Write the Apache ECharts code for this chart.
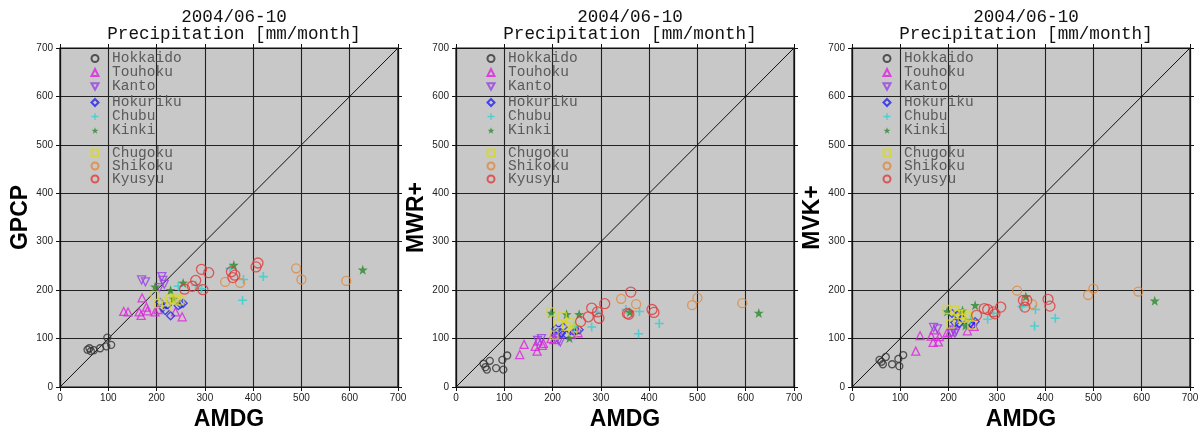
<!DOCTYPE html>
<html>
<head>
<meta charset="utf-8">
<script src="https://cdn.jsdelivr.net/npm/echarts@6/dist/echarts.min.js"></script>
<style>
html,body{margin:0;padding:0;background:#fff;}
#chart{width:1202px;height:436px;}
</style>
</head>
<body>
<div id="chart"></div>
<script>
// ---- data ----
const regions = ['Hokkaido','Touhoku','Kanto','Hokuriku','Chubu','Kinki','Chugoku','Shikoku','Kyusyu'];
const panelNames = ['GPCP','MWR+','MVK+'];
const titleLine1 = '2004/06-10';
const titleLine2 = 'Precipitation [mm/month]';
const xAxisName = 'AMDG';
const axisTicks = [0,100,200,300,400,500,600,700];

const hokkaidoAMDG = [57, 61, 64, 70, 83, 96, 98, 106];
const hokkaidoGPCP = [77, 80, 74, 76, 80, 84, 102, 87];
const hokkaidoMWR  = [48, 41, 36, 54, 39, 56, 36, 65];
const hokkaidoMVK  = [56, 52, 47, 62, 47, 58, 43, 66];

const touhokuAMDG = [132, 141, 164, 168, 170, 179, 181, 197, 203, 239, 253];
const touhokuGPCP = [156, 155, 155, 148, 184, 165, 157, 155, 160, 155, 145];
const touhokuMWR  = [67, 88, 84, 74, 95, 86, 90, 100, 98, 108, 112];
const touhokuMVK  = [74, 106, 105, 92, 118, 93, 104, 112, 114, 116, 125];

const kantoAMDG = [169, 177, 206, 211, 213, 216];
const kantoGPCP = [221, 217, 205, 228, 220, 212];
const kantoMWR  = [96, 100, 100, 103, 96, 93];
const kantoMVK  = [123, 120, 112, 118, 111, 116];

const hokurikuAMDG = [207, 213, 218, 222, 229, 245, 250, 255];
const hokurikuGPCP = [175, 164, 158, 169, 147, 168, 171, 173];
const hokurikuMWR  = [120, 117, 111, 124, 108, 113, 116, 118];
const hokurikuMVK  = [152, 133, 148, 131, 140, 132, 128, 135];

const chubuAMDG = [245, 281, 293, 352, 378, 380, 421];
const chubuGPCP = [208, 210, 203, 245, 179, 222, 228];
const chubuMWR  = [125, 124, 155, 160, 110, 156, 131];
const chubuMVK  = [140, 140, 152, 166, 126, 160, 142];

const kinkiAMDG = [197, 229, 235, 255, 360, 627];
const kinkiGPCP = [207, 200, 182, 215, 252, 242];
const kinkiMWR  = [153, 150, 101, 150, 155, 153];
const kinkiMVK  = [156, 158, 127, 169, 187, 178];

const chugokuAMDG = [197, 203, 213, 220, 228, 236, 242, 248];
const chugokuGPCP = [189, 172, 176, 168, 182, 180, 184, 178];
const chugokuMWR  = [155, 107, 131, 145, 125, 134, 114, 122];
const chugokuMVK  = [160, 130, 158, 150, 142, 151, 145, 128];

const shikokuAMDG = [342, 373, 489, 500, 593];
const shikokuGPCP = [217, 215, 245, 222, 219];
const shikokuMWR  = [182, 171, 169, 184, 173];
const shikokuMVK  = [199, 171, 190, 203, 197];

const kyusyuAMDG = [258, 274, 281, 293, 296, 308, 355, 358, 362, 406, 410];
const kyusyuGPCP = [202, 208, 220, 243, 201, 236, 238, 226, 231, 248, 256];
const kyusyuMWR  = [135, 145, 163, 155, 142, 172, 152, 150, 196, 160, 154];
const kyusyuMVK  = [148, 162, 160, 155, 151, 165, 179, 165, 179, 181, 167];

const oneToOne = [[0, 0], [700, 700]];

// ---- assembly ----
const regionX = [hokkaidoAMDG, touhokuAMDG, kantoAMDG, hokurikuAMDG, chubuAMDG, kinkiAMDG, chugokuAMDG, shikokuAMDG, kyusyuAMDG];
const regionY = [
  [hokkaidoGPCP, touhokuGPCP, kantoGPCP, hokurikuGPCP, chubuGPCP, kinkiGPCP, chugokuGPCP, shikokuGPCP, kyusyuGPCP],
  [hokkaidoMWR, touhokuMWR, kantoMWR, hokurikuMWR, chubuMWR, kinkiMWR, chugokuMWR, shikokuMWR, kyusyuMWR],
  [hokkaidoMVK, touhokuMVK, kantoMVK, hokurikuMVK, chubuMVK, kinkiMVK, chugokuMVK, shikokuMVK, kyusyuMVK]
];

const STAR = 'path://M0,-10 L2.35,-3.24 9.51,-3.09 3.8,1.24 5.88,8.09 0,4 -5.88,8.09 -3.8,1.24 -9.51,-3.09 -2.35,-3.24 Z';
const PLUS = 'path://M-0.9,-5 H0.9 V-0.9 H5 V0.9 H0.9 V5 H-0.9 V0.9 H-5 V-0.9 H-0.9 Z';
const DOWN_TRI = 'path://M-5,-4.5 L5,-4.5 L0,4.5 Z';
const styles = [
  {symbol:'circle', size:7, color:'#333333', empty:true},
  {symbol:'triangle', size:8, color:'#e020e0', empty:true},
  {symbol:'triangle', size:8, color:'#9a3ee6', empty:true, rotate:180, legendIcon: DOWN_TRI},
  {symbol:'diamond', size:8, color:'#2222ee', empty:true},
  {symbol:PLUS, size:9, color:'#30d0d0', empty:false},
  {symbol:STAR, size:10, color:'#2a8a2a', empty:false},
  {symbol:'rect', size:8, color:'#d8d820', empty:true},
  {symbol:'circle', size:9, color:'#e0883a', empty:true},
  {symbol:'circle', size:10, color:'#e03a3a', empty:true}
];

const lefts = [60, 456, 852];
const plotW = 338, plotH = 339, plotTop = 48;
const mono = '"Liberation Mono", "DejaVu Sans Mono", monospace';
const sans = '"Liberation Sans", Arial, sans-serif';

const grids = [], xAxes = [], yAxes = [], series = [], legends = [], titles = [];
const groupTops = [51, 95, 145.5];
const groupGaps = [-1, -1, -2];

lefts.forEach((L, p) => {
  grids.push({left: L, top: plotTop, width: plotW, height: plotH, show: true,
    backgroundColor: '#c8c8c8', borderColor: '#111', borderWidth: 1.2});
  titles.push({text: titleLine1 + '\n' + titleLine2, left: L + plotW / 2, top: 4, textAlign: 'center',
    textStyle: {fontFamily: mono, fontSize: 17.6, fontWeight: 'normal', color: '#111', lineHeight: 17}});
  const baseAxis = {min: 0, max: 700, interval: 100, type: 'value'};
  xAxes.push(Object.assign({}, baseAxis, {gridIndex: p, position: 'bottom',
    name: xAxisName, nameLocation: 'middle', nameGap: 21,
    nameTextStyle: {fontFamily: sans, fontWeight: 'bold', fontSize: 23, color: '#000'},
    axisLine: {show: true, onZero: false, lineStyle: {color: '#111', width: 1.2}},
    axisTick: {show: true, inside: false, length: 4, lineStyle: {color: '#111'}},
    axisLabel: {show: true, margin: 6, fontFamily: sans, fontSize: 10, color: '#222'},
    splitLine: {show: true, lineStyle: {color: '#222', width: 1.1}}}));
  xAxes.push(Object.assign({}, baseAxis, {gridIndex: p, position: 'top',
    axisLine: {show: true, onZero: false, lineStyle: {color: '#111', width: 1.2}},
    axisTick: {show: true, inside: false, length: 4, lineStyle: {color: '#111'}},
    axisLabel: {show: false}, splitLine: {show: false}}));
  yAxes.push(Object.assign({}, baseAxis, {gridIndex: p, position: 'left',
    name: panelNames[p], nameLocation: 'middle', nameGap: 28, nameRotate: 90,
    nameTextStyle: {fontFamily: sans, fontWeight: 'bold', fontSize: 23, color: '#000'},
    axisLine: {show: true, onZero: false, lineStyle: {color: '#111', width: 1.2}},
    axisTick: {show: true, inside: false, length: 4, lineStyle: {color: '#111'}},
    axisLabel: {show: true, margin: 7, fontFamily: sans, fontSize: 10, color: '#222'},
    splitLine: {show: true, lineStyle: {color: '#222', width: 1.1}}}));
  yAxes.push(Object.assign({}, baseAxis, {gridIndex: p, position: 'right',
    axisLine: {show: true, onZero: false, lineStyle: {color: '#111', width: 1.2}},
    axisTick: {show: true, inside: false, length: 4, lineStyle: {color: '#111'}},
    axisLabel: {show: false}, splitLine: {show: false}}));

  series.push({type: 'line', xAxisIndex: p * 2, yAxisIndex: p * 2, data: oneToOne,
    symbol: 'none', silent: true, lineStyle: {color: '#111', width: 1}, z: 2});

  regions.forEach((name, r) => {
    const s = styles[r];
    const xs = regionX[r], ys = regionY[p][r];
    series.push({
      type: 'scatter', name: name, xAxisIndex: p * 2, yAxisIndex: p * 2,
      data: xs.map((x, i) => [x, ys[i]]),
      symbol: s.symbol, symbolSize: s.size, symbolRotate: s.rotate || 0,
      itemStyle: s.empty ? {color: 'rgba(0,0,0,0)', borderColor: s.color, borderWidth: 1.3}
                         : {color: s.color, borderWidth: 0},
      z: 3
    });
  });

  for (let g = 0; g < 3; g++) {
    legends.push({
      orient: 'vertical', left: L + 30.5, top: groupTops[g], padding: 0,
      itemWidth: 7, itemHeight: 7, itemGap: groupGaps[g], selectedMode: false,
      data: regions.slice(g * 3, g * 3 + 3).map((n, k) => {
        const st = styles[g * 3 + k];
        return st.legendIcon ? {name: n, icon: st.legendIcon} : {name: n};
      }),
      textStyle: {fontFamily: mono, fontSize: 14.5, color: '#5a5a5a', lineHeight: 12.5, padding: [0, 0, 0, 8.5]}
    });
  }
});

const chart = echarts.init(document.getElementById('chart'), null, {renderer: 'canvas'});
chart.setOption({
  backgroundColor: '#ffffff',
  animation: false,
  title: titles,
  grid: grids,
  xAxis: xAxes,
  yAxis: yAxes,
  legend: legends,
  series: series
});
</script>
</body>
</html>
